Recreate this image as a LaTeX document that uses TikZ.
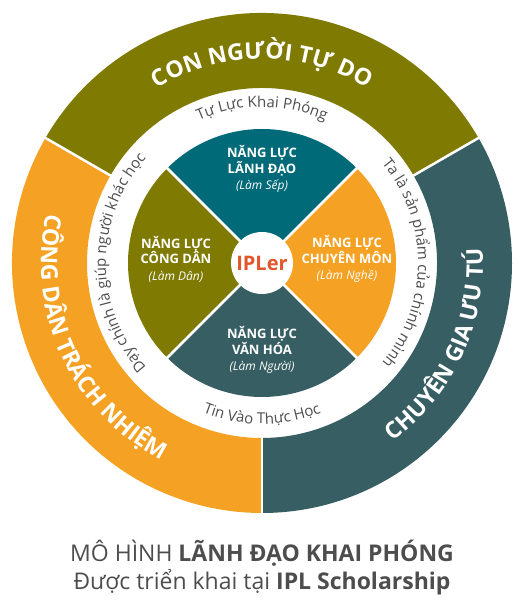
\documentclass[tikz,border=0pt]{standalone}
\usepackage{fontspec}
\setmainfont{Open Sans}
\usetikzlibrary{decorations.text}

\definecolor{olivec}{RGB}{127,122,2}
\definecolor{orangec}{RGB}{245,161,35}
\definecolor{slatec}{RGB}{54,94,99}
\definecolor{tealc}{RGB}{0,106,121}
\definecolor{iplred}{RGB}{226,86,43}
\definecolor{textgray}{RGB}{77,77,77}

\newcommand\bandfont{\fontsize{23}{23}\selectfont\bfseries}
\newcommand\ringfont{\fontsize{15}{15}\selectfont}

\tikzset{
	bandlabel/.style={decorate, decoration={text along path, text align=center, text color=white, text={|\bandfont|#1}}},
	ringlabel/.style={decorate, decoration={text along path, text align=center, text color=textgray, text={|\ringfont|#1}}},
	quadlabel/.style={text=white, align=center, font=\fontsize{13}{15.5}\selectfont\bfseries},
	caption/.style={text=textgray, anchor=base, font=\fontsize{23}{28}\selectfont}
}
\newcommand\roleline[1]{\\[1pt]{\normalfont\itshape\fontsize{12}{14}\selectfont(#1)}}

\begin{document}
\begin{tikzpicture}[x=1pt,y=1pt]
	\useasboundingbox (0,0) rectangle (520,600);
	
	\begin{scope}[shift={(262,337)}]
		% Outer band
		\foreach \s/\e/\c in {30/150/olivec,150/270/orangec,270/390/slatec} {
			\fill[\c] (\s:250) arc[start angle=\s,end angle=\e,radius=250]
				-- (\e:175) arc[start angle=\e,end angle=\s,radius=175] -- cycle;
		}
		\foreach \a in {30,150,270} {
			\draw[white, line width=2.5pt] (\a:172) -- (\a:253);
		}
		\path[bandlabel={CON NGƯỜI TỰ DO}] (150:204) arc[start angle=150,end angle=30,radius=204];
		\path[bandlabel={CÔNG DÂN TRÁCH NHIỆM}] (160:221) arc[start angle=160,end angle=250,radius=221];
		\path[bandlabel={CHUYÊN GIA ƯU TÚ}] (290:221) arc[start angle=290,end angle=380,radius=221];
		
		% White ring texts
		\path[ringlabel={Tự Lực Khai Phóng}] (135:156) arc[start angle=135,end angle=45,radius=156];
		\path[ringlabel={Ta là sản phẩm của chính mình}] (80:156) arc[start angle=80,end angle=-80,radius=156];
		\path[ringlabel={Dạy chính là giúp người khác học}] (260:156) arc[start angle=260,end angle=100,radius=156];
		\path[ringlabel={Tin Vào Thực Học}] (225:161) arc[start angle=225,end angle=315,radius=161];
		
		% Quadrants
		\foreach \s/\c in {45/tealc,135/olivec,225/slatec,315/orangec} {
			\fill[\c] (0,0) -- (\s:134) arc[start angle=\s,end angle=\s+90,radius=134] -- cycle;
		}
		\foreach \a in {45,135,225,315} {
			\draw[white, line width=2.5pt] (0,0) -- (\a:137);
		}
		\node[quadlabel] (lanhdao) at (0,94) {NĂNG LỰC\\LÃNH ĐẠO\roleline{Làm Sếp}};
		\node[quadlabel] (congdan) at (-86,4) {NĂNG LỰC\\CÔNG DÂN\roleline{Làm Dân}};
		\node[quadlabel] (chuyenmon) at (85,4) {NĂNG LỰC\\CHUYÊN MÔN\roleline{Làm Nghề}};
		\node[quadlabel] (vanhoa) at (0,-87) {NĂNG LỰC\\VĂN HÓA\roleline{Làm Người}};
		
		% Core
		\fill[white] (0,0) circle[radius=31];
		\node[text=iplred, font=\fontsize{20}{20}\selectfont\bfseries] (core) at (0,0) {IPLer};
	\end{scope}
	
	% Caption
	\node[caption] (title) at (262,38) {MÔ HÌNH \textbf{LÃNH ĐẠO KHAI PHÓNG}};
	\node[caption] (subtitle) at (262,10) {Được triển khai tại \textbf{IPL Scholarship}};
\end{tikzpicture}
\end{document}
